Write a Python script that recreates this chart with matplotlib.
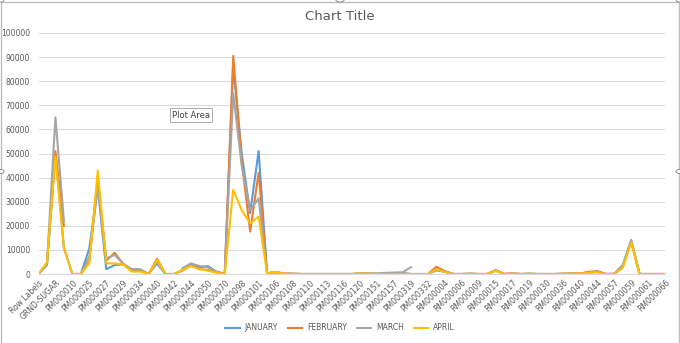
import numpy as np
import matplotlib
matplotlib.use('Agg')
import matplotlib.pyplot as plt
from matplotlib.patches import Rectangle, Circle

nan = np.nan

# Category labels (only every other category is labelled on the axis)
tick_labels = ['Row Labels', 'GRND-SUGAR', 'PM000010', 'PM000025', 'PM000027', 'PM000029',
               'PM000034', 'PM000040', 'PM000042', 'PM000044', 'PM000050', 'PM000070',
               'PM000098', 'PM000101', 'PM000106', 'PM000108', 'PM000110', 'PM000113',
               'PM000116', 'PM000120', 'PM000151', 'PM000157', 'PM000319', 'PM000332',
               'RM000004', 'RM000006', 'RM000009', 'RM000015', 'RM000017', 'RM000019',
               'RM000030', 'RM000036', 'RM000040', 'RM000044', 'RM000057', 'RM000059',
               'RM000061', 'RM000066']

series_names = ['JANUARY', 'FEBRUARY', 'MARCH', 'APRIL']

january = [0, 3700, 50000, 11000, 0, 0, 10600, 36000, 2000, 3700,
           4000, 1800, 1800, 0, 4400, 0, 0, 1500, 3700, 2800,
           3300, 1000, 0, 86000, 50000, 25300, 51000, 300, 800, 200,
           100, 0, 0, 0, 0, 0, 0, 0, 200, 200,
           0, 0, 200, 300, 0, 0, 0, 1500, 900, 0,
           0, 100, 0, 0, 1400, 0, 200, 0, 100, 0,
           0, 0, 100, 200, 200, 700, 1000, 0, 100, 3000,
           14000, 0, 0, 0, 0]

february = [0, 4500, 51000, 20000, nan, 0, 5000, 40000, 5500, 8800,
            4200, 1500, 1500, 0, 6300, 0, 0, 1500, 3700, 2000,
            1700, 800, 0, 90500, 47000, 17600, 42000, 300, 800, 200,
            100, 0, 0, 0, 0, 0, 0, 0, 200, 200,
            0, 0, 200, 300, 0, 0, 0, 3000, 1200, 0,
            0, 100, 0, 0, 1500, 0, 200, 0, 100, 0,
            0, 0, 100, 200, 200, 900, 1200, 0, 0, 3000,
            13500, 0, 0, 0, 0]

march = [0, 4200, 65000, 22000, nan, 0, 7200, 35700, 6500, 7900,
         4300, 2000, 2000, 0, 5000, 0, nan, 2400, 4400, 3300,
         2800, 900, 0, 75000, 45000, 26500, 31400, 300, 700, 200,
         100, 0, 0, 0, 0, 0, 0, 0, 200, 200,
         300, 500, 600, 700, 2800, nan, 0, 1800, 1000, 0,
         0, 100, 0, 0, 1700, 0, 200, 0, 100, 0,
         0, 0, 100, 200, 200, 600, 900, 0, 100, 3700,
         14100, 0, 0, 0, 0]

april = [0, 4700, 48700, 10800, 0, 0, 4500, 42900, 4400, 4400,
         4000, 1000, 1000, 0, 5800, 0, 0, 1700, 3300, 2000,
         1400, 550, 0, 34900, 26500, 21000, 23800, 300, 800, 200,
         100, 0, 0, 0, 0, 0, 0, 0, 200, 200,
         0, 0, 0, 0, 0, 0, 0, 1900, 800, 0,
         0, 100, 0, 0, 1300, 0, 200, 0, 100, 0,
         0, 0, 100, 200, 200, 500, 700, 0, 0, 2500,
         13000, 0, 0, 0, 0]

colors = ['#5B9BD5', '#ED7D31', '#A5A5A5', '#FFC000']

fig = plt.figure(figsize=(6.8, 3.43), dpi=100)
ax = fig.add_axes([38.5 / 680, 1 - 274 / 343, (665 - 38.5) / 680, (274 - 33) / 343])

x = np.arange(len(january))
for name, vals, c in zip(series_names, [january, february, march, april], colors):
    ax.plot(x, vals, color=c, lw=1.5, label=name, solid_joinstyle='round')

ax.set_xlim(0, len(january) - 1)
ax.set_ylim(0, 100000)
ax.set_yticks(np.arange(0, 100001, 10000))
ax.yaxis.grid(True, color='#D9D9D9', lw=0.75)
ax.set_axisbelow(True)
ax.set_xticks(np.arange(0, len(january), 2))
ax.set_xticklabels(tick_labels, rotation=45, ha='right', rotation_mode='anchor')
ax.tick_params(axis='both', length=0, labelsize=5.5, labelcolor='#595959')
ax.tick_params(axis='x', pad=3)
ax.tick_params(axis='y', pad=6)
for s in ['top', 'right', 'left']:
    ax.spines[s].set_visible(False)
ax.spines['bottom'].set_color('#D9D9D9')
ax.spines['bottom'].set_linewidth(0.75)

fig.text(0.5, 1 - 16 / 343, 'Chart Title', ha='center', va='center', fontsize=9.5, color='#595959')

fig.legend(loc='center', bbox_to_anchor=(0.5, 1 - 328 / 343), ncol=4, frameon=False,
           fontsize=5.5, handlelength=1.9, handletextpad=0.6, columnspacing=1.3,
           labelcolor='#595959')

# tooltip left over from the spreadsheet
fig.text(172 / 680, 1 - 115 / 343, 'Plot Area', ha='left', va='center', fontsize=6, color='#404040',
         bbox=dict(boxstyle='square,pad=0.25', fc='white', ec='#A0A0A0', lw=0.6))

# chart frame and selection handles
fig.add_artist(Rectangle((0.001, -0.01), 0.998, 1.005, transform=fig.transFigure,
                         fill=False, ec='#BFBFBF', lw=1))
for hx, hy in [(0, 1), (0.5, 1), (1, 1), (0, 0.5), (1, 0.5)]:
    fig.add_artist(Circle((hx, hy), 0.006, transform=fig.transFigure,
                          fc='white', ec='#808080', lw=0.6))

fig.savefig('out.png', dpi=100)
